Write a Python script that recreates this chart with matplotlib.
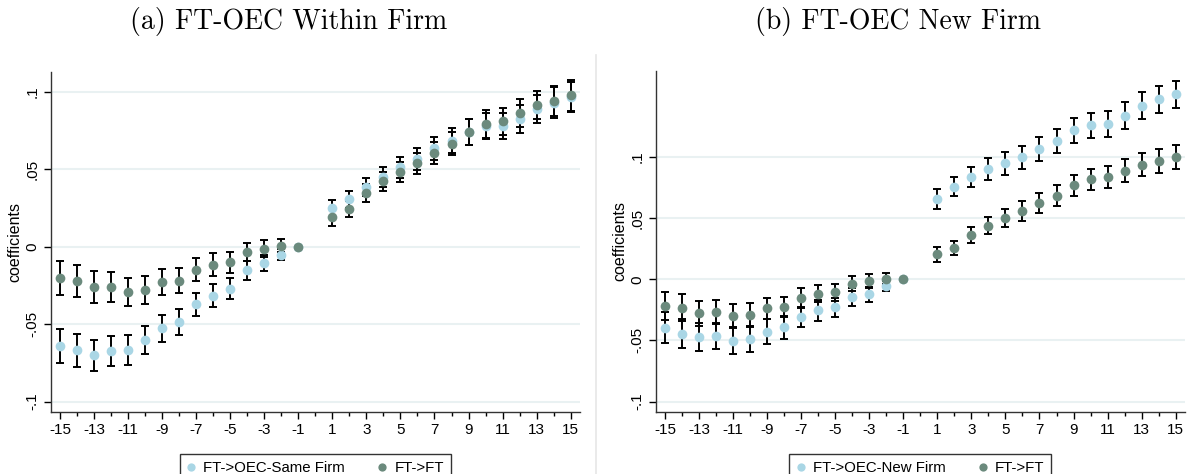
import matplotlib
matplotlib.use("Agg")
import matplotlib.pyplot as plt
import numpy as np
from matplotlib.lines import Line2D

plt.rcParams["font.family"] = ["Liberation Sans", "DejaVu Sans"]

event_time = [-15, -14, -13, -12, -11, -10, -9, -8, -7, -6, -5, -4, -3, -2, -1,
              1, 2, 3, 4, 5, 6, 7, 8, 9, 10, 11, 12, 13, 14, 15]
tick_labels = [-15, -13, -11, -9, -7, -5, -3, -1, 1, 3, 5, 7, 9, 11, 13, 15]

# (a) within firm
same_firm_coef = [-0.0643, -0.0669, -0.0701, -0.0673, -0.0667, -0.0602, -0.0527, -0.0488,
                  -0.0372, -0.0316, -0.0271, -0.0153, -0.0103, -0.0052, 0.0,
                  0.0249, 0.0305, 0.0387, 0.0452, 0.0512, 0.0563, 0.0634, 0.0684,
                  0.0742, 0.0778, 0.0778, 0.0824, 0.0886, 0.0929, 0.0963]
same_firm_ci = [0.011, 0.0105, 0.0102, 0.0098, 0.0094, 0.009, 0.0085, 0.0083,
                0.0075, 0.0072, 0.0068, 0.0062, 0.0052, 0.0034, 0.0,
                0.0055, 0.0057, 0.0059, 0.0065, 0.0067, 0.0071, 0.0075, 0.0081,
                0.0083, 0.0084, 0.0086, 0.0089, 0.0091, 0.0100, 0.0097]
ft_a_coef = [-0.0202, -0.0221, -0.0262, -0.0260, -0.0295, -0.0280, -0.0230, -0.0220,
             -0.0148, -0.0116, -0.0101, -0.0034, -0.0013, 0.0006, 0.0,
             0.0189, 0.0241, 0.0348, 0.0422, 0.0482, 0.0538, 0.0604, 0.0665,
             0.0742, 0.0791, 0.0809, 0.0862, 0.0912, 0.0940, 0.0976]
ft_a_ci = [0.0108, 0.0102, 0.0102, 0.0095, 0.0091, 0.0089, 0.0085, 0.0080,
           0.0075, 0.0073, 0.0069, 0.0060, 0.0056, 0.0041, 0.0,
           0.0057, 0.0052, 0.0058, 0.0062, 0.0065, 0.0067, 0.0070, 0.0075,
           0.0083, 0.0088, 0.0087, 0.0092, 0.0091, 0.0097, 0.0098]

# (b) new firm
new_firm_coef = [-0.0395, -0.0444, -0.0471, -0.0463, -0.0501, -0.0488, -0.0428, -0.0392,
                 -0.0305, -0.0253, -0.0229, -0.0144, -0.0123, -0.0054, 0.0,
                 0.0657, 0.0757, 0.0837, 0.0899, 0.0948, 0.0997, 0.1063, 0.1134,
                 0.1218, 0.1259, 0.1272, 0.1338, 0.1420, 0.1471, 0.1512]
new_firm_ci = [0.0128, 0.0120, 0.0114, 0.0109, 0.0109, 0.0104, 0.0101, 0.0093,
               0.0082, 0.0087, 0.0076, 0.0071, 0.0060, 0.0041, 0.0,
               0.0082, 0.0076, 0.0083, 0.0090, 0.0094, 0.0095, 0.0098, 0.0099,
               0.0101, 0.0105, 0.0105, 0.0109, 0.0110, 0.0112, 0.0113]
ft_b_coef = [-0.0215, -0.0232, -0.0278, -0.0267, -0.0302, -0.0292, -0.0237, -0.0226,
             -0.0153, -0.0117, -0.0106, -0.0035, -0.0014, 0.0005, 0.0,
             0.0204, 0.0256, 0.0362, 0.0439, 0.0504, 0.0559, 0.0624, 0.0684,
             0.0768, 0.0817, 0.0834, 0.0888, 0.0937, 0.0967, 0.1003]
ft_b_ci = [0.0114, 0.0109, 0.0104, 0.0101, 0.0098, 0.0095, 0.0087, 0.0084,
           0.0079, 0.0071, 0.0068, 0.0063, 0.0054, 0.0044, 0.0,
           0.0063, 0.0056, 0.0063, 0.0072, 0.0075, 0.0079, 0.0080, 0.0084,
           0.0084, 0.0089, 0.0091, 0.0094, 0.0095, 0.0098, 0.0098]

light = "#a9d6e5"
dark = "#6b8a7d"
grid_c = "#e9f1f2"

fig = plt.figure(figsize=(11.9, 4.74), dpi=100)
ax_a = fig.add_axes([0.0426, 0.1314, 0.4448, 0.7173])
ax_b = fig.add_axes([0.5510, 0.1314, 0.4448, 0.7194])


def draw_panel(ax, light_coef, light_ci, dark_coef, dark_ci, light_label, ylim):
    x = np.array(event_time)
    for coef, ci in [(light_coef, light_ci), (dark_coef, dark_ci)]:
        coef = np.array(coef)
        ci = np.array(ci)
        m = ci > 0
        ax.errorbar(x[m], coef[m], yerr=ci[m], fmt="none", ecolor="black",
                    elinewidth=1.4, capsize=2.7, capthick=1.4, zorder=2)
    ax.plot(x, light_coef, "o", color=light, ms=7, mec="none", zorder=3,
            label=light_label)
    ax.plot(x, dark_coef, "o", color=dark, ms=7, mec="none", zorder=4,
            label="FT->FT")

    ax.set_xlim(-15.55, 15.55)
    ax.set_ylim(*ylim)
    ax.set_xticks(tick_labels)
    ax.set_xticklabels([str(t) for t in tick_labels], fontsize=11)
    ax.set_xticks(range(-15, 16), minor=True)
    ax.tick_params(axis="x", which="major", length=5, width=1, direction="out",
                   pad=3)
    ax.tick_params(axis="x", which="minor", length=3, width=1, direction="out")
    yt = [-0.1, -0.05, 0, 0.05, 0.1]
    ax.set_yticks(yt)
    ax.set_yticklabels(["-.1", "-.05", "0", ".05", ".1"], rotation=90,
                       va="center", fontsize=11)
    ax.tick_params(axis="y", length=5, width=1, direction="out", pad=3)
    for v in yt:
        ax.axhline(v, color=grid_c, lw=1.5, zorder=0)
    for s in ["top", "right"]:
        ax.spines[s].set_visible(False)
    for s in ["left", "bottom"]:
        ax.spines[s].set_color("#333333")
        ax.spines[s].set_linewidth(1.0)
    ax.set_ylabel("coefficients", fontsize=11.5, labelpad=2)

    leg = ax.legend(loc="upper center", bbox_to_anchor=(0.5, -0.103), ncol=2,
                    fontsize=10.8, frameon=True, fancybox=False,
                    edgecolor="black", handlelength=0.6, handletextpad=0.5,
                    columnspacing=2.2, borderpad=0.45, markerscale=0.85)
    leg.get_frame().set_linewidth(1.0)


draw_panel(ax_a, same_firm_coef, same_firm_ci, ft_a_coef, ft_a_ci,
           "FT->OEC-Same Firm", (-0.1065, 0.1129))
draw_panel(ax_b, new_firm_coef, new_firm_ci, ft_b_coef, ft_b_ci,
           "FT->OEC-New Firm", (-0.1083, 0.1706))

fig.text(289 / 1190, 1 - 22 / 474, "(a) FT-OEC Within Firm", family="cmr10",
         fontsize=20, ha="center", va="center")
fig.text(898 / 1190, 1 - 22 / 474, "(b) FT-OEC New Firm", family="cmr10",
         fontsize=20, ha="center", va="center")

fig.add_artist(Line2D([596 / 1190, 596 / 1190], [0, 1 - 55 / 474],
                      color="#e6e6e6", lw=1.2))

fig.savefig("out.png", dpi=100)
